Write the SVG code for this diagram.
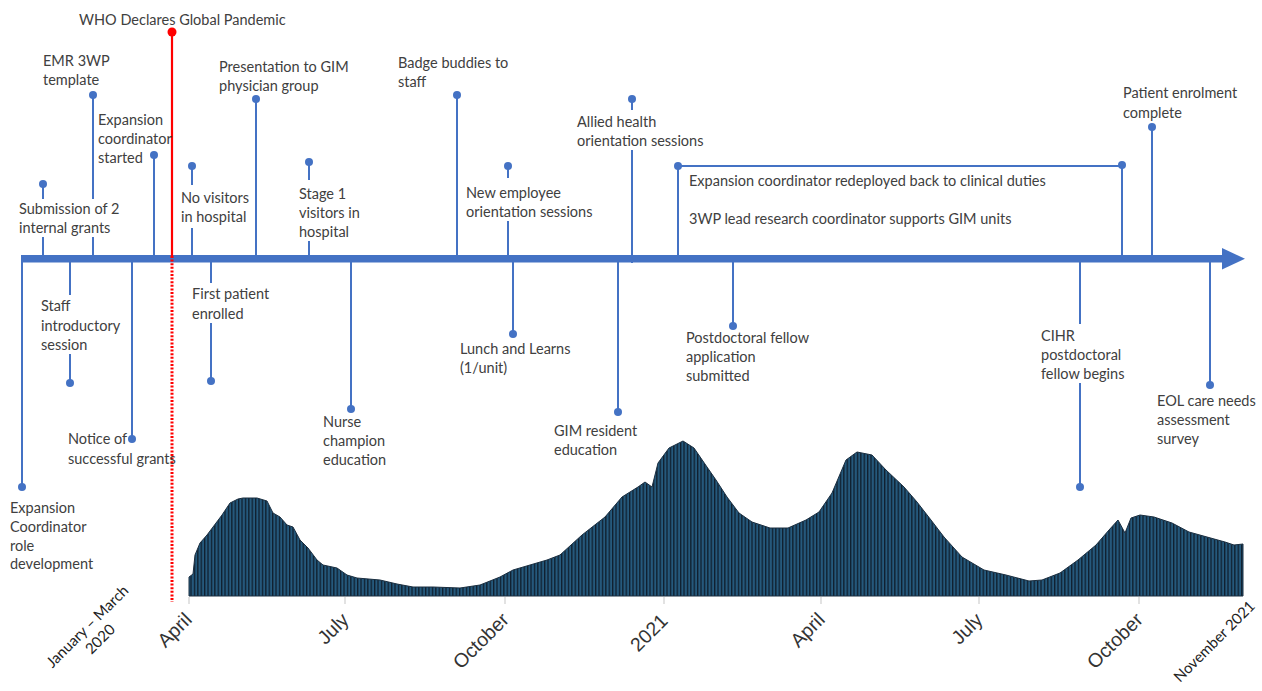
<svg xmlns="http://www.w3.org/2000/svg" width="1262" height="691" viewBox="0 0 1262 691">
<style>
.lbl{font-family:Lato,"Liberation Sans",sans-serif;font-size:14.5px;fill:#404040}
.cal{font-family:Lato,"Liberation Sans",sans-serif;font-size:15px;fill:#222}
.tick{font-family:"Liberation Sans",Arial,sans-serif;font-size:19.5px;fill:#333}
.stem{stroke:#4472C4;stroke-width:2;fill:none}
.dot{fill:#4472C4}
.gt{stroke:#d9d9d9;stroke-width:1.5}
</style>
<defs>
<pattern id="bars" width="3.4" height="10" patternUnits="userSpaceOnUse">
<rect width="3.4" height="10" fill="#25597c"/>
<rect width="1.3" height="10" fill="#0f1f2e"/>
</pattern>
</defs>
<rect width="1262" height="691" fill="#fff"/>
<g id="chart">
<path d="M189,596 L189,577 L193,574 L195,555 L200,543 L207,535 L213,527 L222,515 L230,503 L238,499 L243,498 L257,498 L267,501 L273,513 L280,517 L287,525 L293,527 L300,540 L308,548 L317,560 L323,565 L337,568 L347,575 L357,578 L380,580 L397,584 L413,587 L433,587 L460,588 L480,585 L500,577 L513,570 L530,565 L547,560 L560,555 L582,535 L605,517 L622,497 L638,487 L645,482 L652,487 L658,463 L669,448 L683,441 L694,448 L707,467 L716,480 L727,497 L739,513 L752,522 L770,528 L788,528 L806,520 L819,512 L832,493 L846,460 L857,452 L872,455 L886,470 L904,487 L917,502 L931,520 L944,537 L962,557 L984,570 L1006,575 L1029,581 L1042,580 L1060,573 L1078,560 L1096,545 L1109,530 L1118,520 L1125,533 L1131,518 L1140,515 L1154,517 L1172,523 L1189,532 L1207,537 L1225,542 L1234,545 L1243,544 L1243,596 Z" fill="url(#bars)" stroke="#1a2e40" stroke-width="1"/>
<line class="gt" x1="189" y1="597" x2="189" y2="604"/>
<line class="gt" x1="345" y1="597" x2="345" y2="604"/>
<line class="gt" x1="505" y1="597" x2="505" y2="604"/>
<line class="gt" x1="664" y1="597" x2="664" y2="604"/>
<line class="gt" x1="821" y1="597" x2="821" y2="604"/>
<line class="gt" x1="979" y1="597" x2="979" y2="604"/>
<line class="gt" x1="1139" y1="597" x2="1139" y2="604"/>
<text class="tick" text-anchor="end" transform="translate(193,621) rotate(-45)">April</text>
<text class="tick" text-anchor="end" transform="translate(350,621) rotate(-45)">July</text>
<text class="tick" text-anchor="end" transform="translate(510,621) rotate(-45)">October</text>
<text class="tick" text-anchor="end" transform="translate(669,622) rotate(-45)">2021</text>
<text class="tick" text-anchor="end" transform="translate(826,621) rotate(-45)">April</text>
<text class="tick" text-anchor="end" transform="translate(984,621) rotate(-45)">July</text>
<text class="tick" text-anchor="end" transform="translate(1144,621) rotate(-45)">October</text>
<text class="cal" text-anchor="middle" transform="translate(91,630) rotate(-45)"><tspan x="0" y="0">January – March</tspan><tspan x="0" y="18">2020</tspan></text>
<text class="cal" font-size="16" text-anchor="end" transform="translate(1256,607) rotate(-45)">November 2021</text>
</g>
<g id="connectors">
<rect x="21" y="255" width="1202" height="7.5" fill="#4472C4"/>
<polygon points="1222,248 1245,258.8 1222,269.5" fill="#4472C4"/>
<line x1="172" y1="32" x2="172" y2="256" stroke="#ff0000" stroke-width="2.2"/>
<line x1="172" y1="256" x2="172" y2="602" stroke="#ff0000" stroke-width="3" stroke-dasharray="2 1.6"/>
<path class="stem" d="M43,184V199M43,237V256"/>
<path class="stem" d="M93,95V199M93,237V256"/>
<path class="stem" d="M154,155V256"/>
<path class="stem" d="M192,166V185M192,228V256"/>
<path class="stem" d="M256,99V262"/>
<path class="stem" d="M309,162V180M309,241V256"/>
<path class="stem" d="M457,95V256"/>
<path class="stem" d="M508,166V178M508,221V256"/>
<path class="stem" d="M632,99V110M632,150V263"/>
<path class="stem" d="M678,256V166H1122V256"/>
<path class="stem" d="M1152,127V256"/>
<path class="stem" d="M22,262V487"/>
<path class="stem" d="M70,262V295M70,354V383"/>
<path class="stem" d="M132,262V439"/>
<path class="stem" d="M211,262V283M211,323V381"/>
<path class="stem" d="M351,262V409"/>
<path class="stem" d="M513,262V334"/>
<path class="stem" d="M618,262V412"/>
<path class="stem" d="M733,262V326"/>
<path class="stem" d="M1080,262V324M1080,383V487"/>
<path class="stem" d="M1210,262V385"/>
</g>
<g id="who"><circle cx="172" cy="32" r="4.5" fill="#ff0000"/><text class="lbl" x="79" y="25">WHO Declares Global Pandemic</text></g>
<g id="n-grants"><circle class="dot" cx="43" cy="184" r="4"/><text class="lbl"><tspan x="19" y="214">Submission of 2</tspan><tspan x="19" y="233">internal grants</tspan></text></g>
<g id="n-emr"><circle class="dot" cx="93" cy="95" r="4"/><text class="lbl"><tspan x="43" y="66">EMR 3WP</tspan><tspan x="43" y="85">template</tspan></text></g>
<g id="n-coord-start"><circle class="dot" cx="154" cy="155" r="4"/><text class="lbl"><tspan x="98" y="125">Expansion</tspan><tspan x="98" y="144">coordinator</tspan><tspan x="98" y="163">started</tspan></text></g>
<g id="n-novisit"><circle class="dot" cx="192" cy="166" r="4"/><text class="lbl"><tspan x="181" y="203">No visitors</tspan><tspan x="181" y="222">in hospital</tspan></text></g>
<g id="n-present"><circle class="dot" cx="256" cy="99" r="4"/><text class="lbl"><tspan x="219" y="72">Presentation to GIM</tspan><tspan x="219" y="91">physician group</tspan></text></g>
<g id="n-stage1"><circle class="dot" cx="309" cy="162" r="4"/><text class="lbl"><tspan x="299" y="199">Stage 1</tspan><tspan x="299" y="218">visitors in</tspan><tspan x="299" y="237">hospital</tspan></text></g>
<g id="n-badge"><circle class="dot" cx="457" cy="95" r="4"/><text class="lbl"><tspan x="398" y="68">Badge buddies to</tspan><tspan x="398" y="87">staff</tspan></text></g>
<g id="n-newemp"><circle class="dot" cx="508" cy="166" r="4"/><text class="lbl"><tspan x="466" y="198">New employee</tspan><tspan x="466" y="217">orientation sessions</tspan></text></g>
<g id="n-allied"><circle class="dot" cx="632" cy="99" r="4"/><text class="lbl"><tspan x="577" y="127">Allied health</tspan><tspan x="577" y="146">orientation sessions</tspan></text></g>
<g id="n-redeploy"><circle class="dot" cx="678" cy="166" r="4"/><circle class="dot" cx="1122" cy="165" r="4"/><text class="lbl" x="689" y="186">Expansion coordinator redeployed back to clinical duties</text><text class="lbl" x="689" y="224">3WP lead research coordinator supports GIM units</text></g>
<g id="n-enrol-done"><circle class="dot" cx="1152" cy="127" r="4"/><text class="lbl"><tspan x="1123" y="98">Patient enrolment</tspan><tspan x="1123" y="118">complete</tspan></text></g>
<g id="n-role"><circle class="dot" cx="22" cy="487" r="4"/><text class="lbl"><tspan x="10" y="513">Expansion</tspan><tspan x="10" y="532">Coordinator</tspan><tspan x="10" y="551">role</tspan><tspan x="10" y="569">development</tspan></text></g>
<g id="n-staff"><circle class="dot" cx="70" cy="383" r="4"/><text class="lbl"><tspan x="41" y="311">Staff</tspan><tspan x="41" y="331">introductory</tspan><tspan x="41" y="350">session</tspan></text></g>
<g id="n-notice"><circle class="dot" cx="132" cy="439" r="4"/><text class="lbl"><tspan x="68" y="444">Notice of</tspan><tspan x="68" y="464">successful grants</tspan></text></g>
<g id="n-firstpt"><circle class="dot" cx="211" cy="381" r="4"/><text class="lbl"><tspan x="192" y="299">First patient</tspan><tspan x="192" y="319">enrolled</tspan></text></g>
<g id="n-nurse"><circle class="dot" cx="351" cy="409" r="4"/><text class="lbl"><tspan x="323" y="427">Nurse</tspan><tspan x="323" y="446">champion</tspan><tspan x="323" y="465">education</tspan></text></g>
<g id="n-lunch"><circle class="dot" cx="513" cy="334" r="4"/><text class="lbl"><tspan x="460" y="354">Lunch and Learns</tspan><tspan x="460" y="373">(1/unit)</tspan></text></g>
<g id="n-gimres"><circle class="dot" cx="618" cy="412" r="4"/><text class="lbl"><tspan x="554" y="436">GIM resident</tspan><tspan x="554" y="455">education</tspan></text></g>
<g id="n-postdoc-app"><circle class="dot" cx="733" cy="326" r="4"/><text class="lbl"><tspan x="686" y="343">Postdoctoral fellow</tspan><tspan x="686" y="362">application</tspan><tspan x="686" y="381">submitted</tspan></text></g>
<g id="n-cihr"><circle class="dot" cx="1080" cy="487" r="4"/><text class="lbl"><tspan x="1041" y="341">CIHR</tspan><tspan x="1041" y="360">postdoctoral</tspan><tspan x="1041" y="379">fellow begins</tspan></text></g>
<g id="n-eol"><circle class="dot" cx="1210" cy="385" r="4"/><text class="lbl"><tspan x="1157" y="406">EOL care needs</tspan><tspan x="1157" y="425">assessment</tspan><tspan x="1157" y="444">survey</tspan></text></g>
</svg>
